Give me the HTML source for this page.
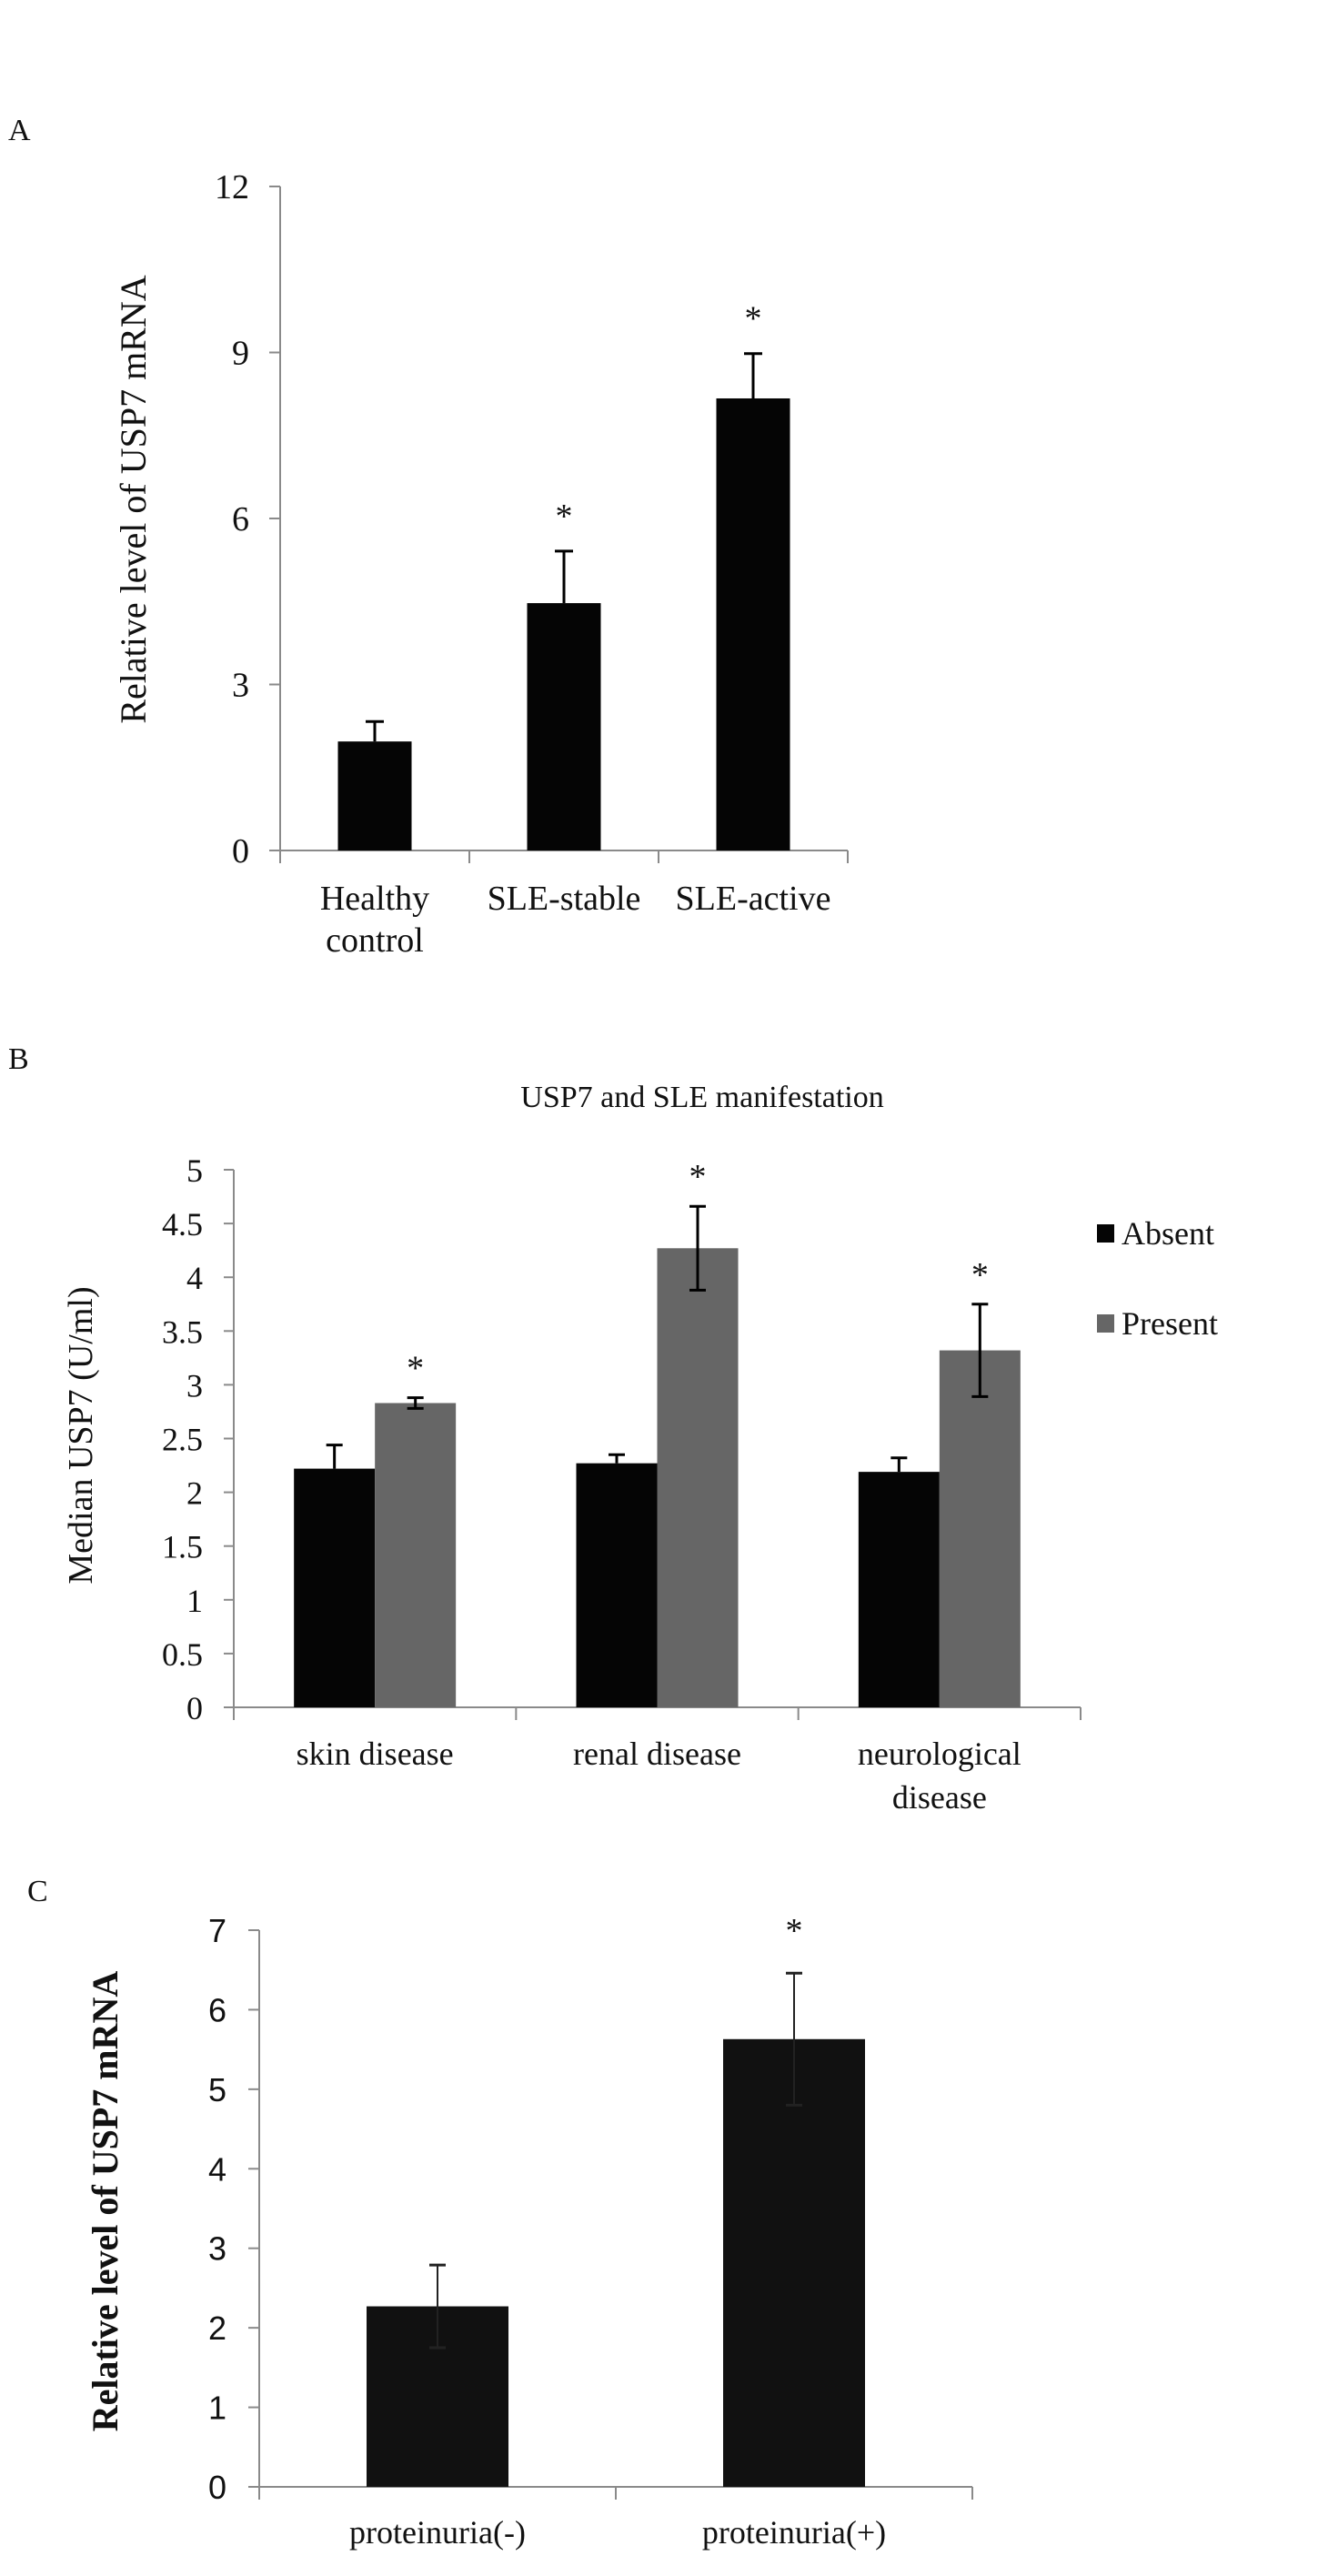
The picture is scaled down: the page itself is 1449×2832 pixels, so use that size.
<!DOCTYPE html>
<html><head><meta charset="utf-8"><style>
html,body{margin:0;padding:0;background:#fff;}
svg{display:block;}
text{font-family:"Liberation Serif",serif;fill:#111;}
</style></head><body>
<svg id="chart" width="1449" height="2832" viewBox="0 0 1449 2832" xmlns="http://www.w3.org/2000/svg"></svg>
<script>
// Panel A data
const aCategories = [["Healthy","control"],["SLE-stable"],["SLE-active"]];
const aValues = [1.97, 4.47, 8.17];
const aErrors = [0.36, 0.94, 0.81];
const aStars = [false, true, true];
const aTicks = [0,3,6,9,12];
// Panel B data
const bCategories = [["skin disease"],["renal disease"],["neurological","disease"]];
const bAbsent = [2.22, 2.27, 2.19];
const bAbsentErr = [0.22, 0.08, 0.13];
const bPresent = [2.83, 4.27, 3.32];
const bPresentErr = [0.05, 0.39, 0.43];
const bStars = [true, true, true];
const bTicks = ["0","0.5","1","1.5","2","2.5","3","3.5","4","4.5","5"];
const bSeries = ["Absent","Present"];
// Panel C data
const cCategories = ["proteinuria(-)","proteinuria(+)"];
const cValues = [2.27, 5.63];
const cErrors = [0.52, 0.83];
const cStars = [false, true];
const cTicks = [0,1,2,3,4,5,6,7];

const svg = document.getElementById('chart');
const NS = 'http://www.w3.org/2000/svg';
function mk(tag, attrs, parent, txt){
  const e = document.createElementNS(NS, tag);
  for (const k in attrs) e.setAttribute(k, attrs[k]);
  if (txt !== undefined) e.textContent = txt;
  (parent||svg).appendChild(e);
  return e;
}
function grp(name){
  const g = mk('g', {});
  
  
  return g;
}
const AX = '#8a8a8a';

// ---------- Panel A ----------
(function(){
  const g = grp('panel-a');
  const x0 = 308, xEnd = 932, yBase = 935, yTop = 205, vMax = 12;
  const y = v => yBase - (v / vMax) * (yBase - yTop);
  const n = aValues.length, cw = (xEnd - x0) / n, bw = 81;
  const lbl = mk('text', {x: 9, y: 154, 'font-size': 34}, g, 'A');
  
  
  mk('line', {x1: x0, y1: yTop, x2: x0, y2: yBase, stroke: AX, 'stroke-width': 2}, g);
  mk('line', {x1: x0, y1: yBase, x2: xEnd, y2: yBase, stroke: AX, 'stroke-width': 2}, g);
  aTicks.forEach(t => {
    mk('line', {x1: x0 - 12, y1: y(t), x2: x0, y2: y(t), stroke: AX, 'stroke-width': 2}, g);
    const tl = mk('text', {x: 274, y: y(t) + 13, 'font-size': 38, 'text-anchor': 'end'}, g, String(t));
    
    
  });
  for (let i = 0; i <= n; i++) {
    const xx = x0 + i * cw;
    mk('line', {x1: xx, y1: yBase, x2: xx, y2: yBase + 14, stroke: AX, 'stroke-width': 2}, g);
  }
  aValues.forEach((v, i) => {
    const cx = x0 + cw * (i + 0.5);
    const b = mk('rect', {x: cx - bw/2, y: y(v), width: bw, height: yBase - y(v), fill: '#050505'}, g);
    
    
    const et = y(v + aErrors[i]);
    mk('line', {x1: cx, y1: y(v), x2: cx, y2: et, stroke: '#000', 'stroke-width': 3}, g);
    mk('line', {x1: cx - 10, y1: et, x2: cx + 10, y2: et, stroke: '#000', 'stroke-width': 3}, g);
    if (aStars[i]) {
      const s = mk('text', {x: cx, y: et - 26, 'font-size': 38, 'text-anchor': 'middle'}, g, '*');
      
      
    }
    aCategories[i].forEach((line, j) => {
      const c = mk('text', {x: cx, y: 1000 + j * 46, 'font-size': 38, 'text-anchor': 'middle'}, g, line);
      
      
    });
  });
  const yt = mk('text', {x: 0, y: 0, 'font-size': 40, 'text-anchor': 'middle', transform: 'translate(160,549) rotate(-90)'}, g, 'Relative level of USP7 mRNA');
  
  
})();

// ---------- Panel B ----------
(function(){
  const g = grp('panel-b');
  const x0 = 257, xEnd = 1188, yBase = 1877, yTop = 1286, vMax = 5;
  const y = v => yBase - (v / vMax) * (yBase - yTop);
  const n = bAbsent.length, cw = (xEnd - x0) / n, bw = 89;
  const lbl = mk('text', {x: 9, y: 1175, 'font-size': 34}, g, 'B');
  
  
  const title = mk('text', {x: 772, y: 1217, 'font-size': 34, 'text-anchor': 'middle'}, g, 'USP7 and SLE manifestation');
  
  
  mk('line', {x1: x0, y1: yTop, x2: x0, y2: yBase, stroke: AX, 'stroke-width': 2}, g);
  mk('line', {x1: x0, y1: yBase, x2: xEnd, y2: yBase, stroke: AX, 'stroke-width': 2}, g);
  bTicks.forEach(t => {
    const v = parseFloat(t);
    mk('line', {x1: x0 - 11, y1: y(v), x2: x0, y2: y(v), stroke: AX, 'stroke-width': 2}, g);
    const tl = mk('text', {x: 223, y: y(v) + 13, 'font-size': 36, 'text-anchor': 'end'}, g, t);
    
    
  });
  for (let i = 0; i <= n; i++) {
    const xx = x0 + i * cw;
    mk('line', {x1: xx, y1: yBase, x2: xx, y2: yBase + 14, stroke: AX, 'stroke-width': 2}, g);
  }
  for (let i = 0; i < n; i++) {
    const cx = x0 + cw * (i + 0.5);
    // absent
    const va = bAbsent[i];
    const ba = mk('rect', {x: cx - bw, y: y(va), width: bw, height: yBase - y(va), fill: '#050505'}, g);
    
    
    const ax = cx - bw/2, at = y(va + bAbsentErr[i]);
    mk('line', {x1: ax, y1: y(va), x2: ax, y2: at, stroke: '#000', 'stroke-width': 3}, g);
    mk('line', {x1: ax - 9, y1: at, x2: ax + 9, y2: at, stroke: '#000', 'stroke-width': 3}, g);
    // present
    const vp = bPresent[i];
    const bp = mk('rect', {x: cx, y: y(vp), width: bw, height: yBase - y(vp), fill: '#666666'}, g);
    
    
    const px = cx + bw/2, pt = y(vp + bPresentErr[i]), pb = y(vp - bPresentErr[i]);
    mk('line', {x1: px, y1: pb, x2: px, y2: pt, stroke: '#000', 'stroke-width': 3}, g);
    mk('line', {x1: px - 9, y1: pt, x2: px + 9, y2: pt, stroke: '#000', 'stroke-width': 3}, g);
    mk('line', {x1: px - 9, y1: pb, x2: px + 9, y2: pb, stroke: '#000', 'stroke-width': 3}, g);
    if (bStars[i]) {
      const s = mk('text', {x: px, y: pt - 20, 'font-size': 38, 'text-anchor': 'middle'}, g, '*');
      
      
    }
    bCategories[i].forEach((line, j) => {
      const c = mk('text', {x: cx, y: 1940 + j * 48, 'font-size': 36, 'text-anchor': 'middle'}, g, line);
      
      
    });
  }
  const colors = ['#050505', '#666666'];
  bSeries.forEach((s, i) => {
    const ly = 1356 + i * 99;
    const sw = mk('rect', {x: 1206, y: ly - 10, width: 19, height: 20, fill: colors[i]}, g);
    
    
    const t = mk('text', {x: 1233, y: ly + 12, 'font-size': 36}, g, s);
    
    
  });
  const yt = mk('text', {x: 0, y: 0, 'font-size': 38, 'text-anchor': 'middle', transform: 'translate(101,1578) rotate(-90)'}, g, 'Median USP7 (U/ml)');
  
  
})();

// ---------- Panel C ----------
(function(){
  const g = grp('panel-c');
  const x0 = 285, xEnd = 1069, yBase = 2734, yTop = 2122, vMax = 7;
  const y = v => yBase - (v / vMax) * (yBase - yTop);
  const n = cValues.length, cw = (xEnd - x0) / n, bw = 156;
  const lbl = mk('text', {x: 30, y: 2090, 'font-size': 34}, g, 'C');
  
  
  mk('line', {x1: x0, y1: yTop, x2: x0, y2: yBase, stroke: AX, 'stroke-width': 2}, g);
  mk('line', {x1: x0, y1: yBase, x2: xEnd, y2: yBase, stroke: AX, 'stroke-width': 2}, g);
  cTicks.forEach(t => {
    mk('line', {x1: x0 - 12, y1: y(t), x2: x0, y2: y(t), stroke: AX, 'stroke-width': 2}, g);
    const tl = mk('text', {x: 249, y: y(t) + 13, 'font-size': 36, 'text-anchor': 'end', style: 'font-family:"Liberation Sans",sans-serif'}, g, String(t));
    
    
  });
  for (let i = 0; i <= n; i++) {
    const xx = x0 + i * cw;
    mk('line', {x1: xx, y1: yBase, x2: xx, y2: yBase + 14, stroke: AX, 'stroke-width': 2}, g);
  }
  cValues.forEach((v, i) => {
    const cx = x0 + cw * (i + 0.5);
    const b = mk('rect', {x: cx - bw/2, y: y(v), width: bw, height: yBase - y(v), fill: '#111111'}, g);
    
    
    const et = y(v + cErrors[i]), eb = y(v - cErrors[i]);
    mk('line', {x1: cx, y1: eb, x2: cx, y2: et, stroke: '#222', 'stroke-width': 2}, g);
    mk('line', {x1: cx - 9, y1: et, x2: cx + 9, y2: et, stroke: '#222', 'stroke-width': 3}, g);
    mk('line', {x1: cx - 9, y1: eb, x2: cx + 9, y2: eb, stroke: '#222', 'stroke-width': 3}, g);
    if (cStars[i]) {
      const s = mk('text', {x: cx, y: 2135, 'font-size': 38, 'text-anchor': 'middle'}, g, '*');
      
      
    }
    const c = mk('text', {x: cx, y: 2796, 'font-size': 36, 'text-anchor': 'middle'}, g, cCategories[i]);
    
    
  });
  const yt = mk('text', {x: 0, y: 0, 'font-size': 40, 'font-weight': 'bold', 'text-anchor': 'middle', transform: 'translate(129,2420) rotate(-90)'}, g, 'Relative level of USP7 mRNA');
  
  
})();
</script>
</body></html>
